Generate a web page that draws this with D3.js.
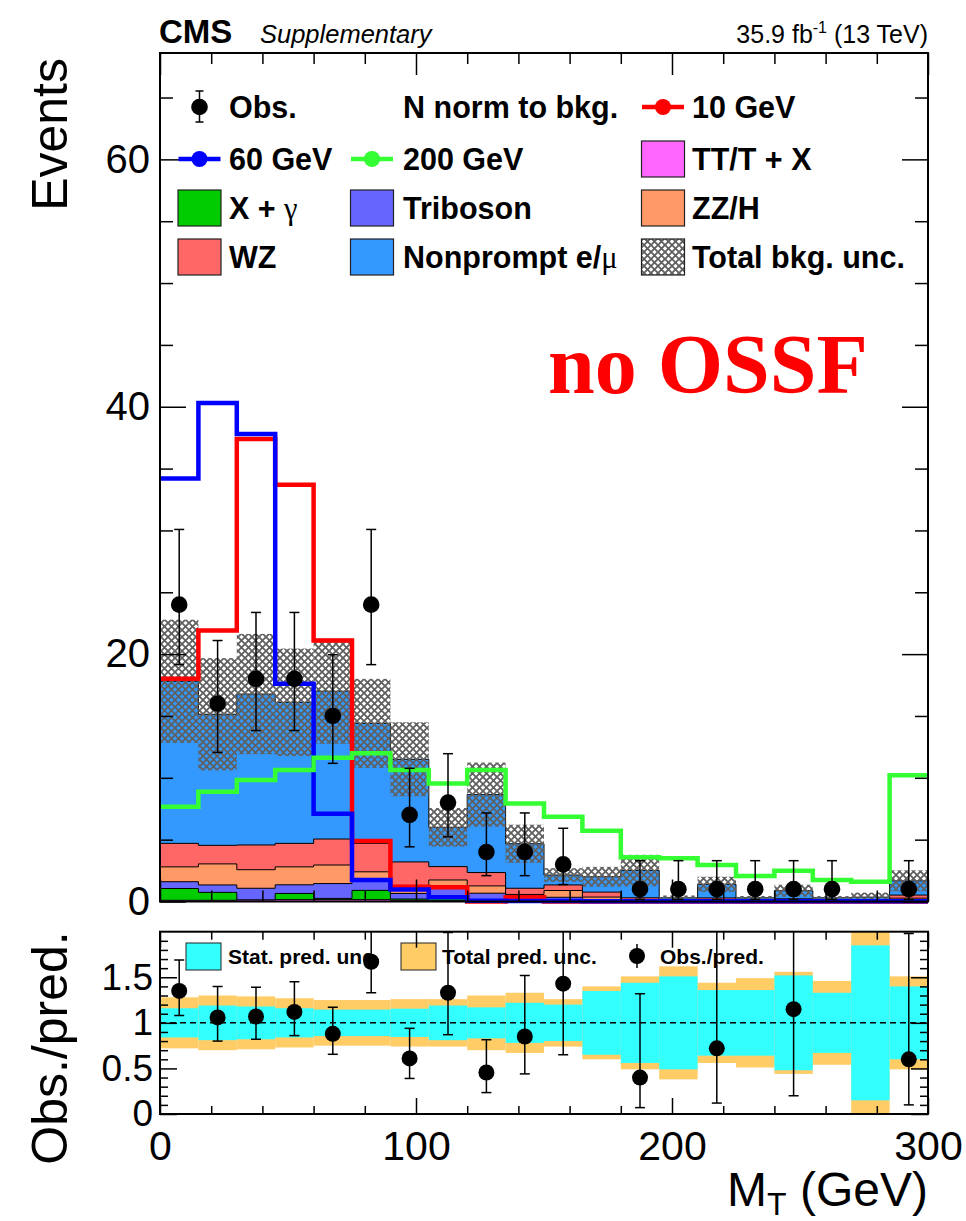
<!DOCTYPE html>
<html>
<head>
<meta charset="utf-8">
<script src="https://cdn.jsdelivr.net/npm/d3@7"></script>
<style>
body { margin:0; background:#fff; }
svg text { font-family: "Liberation Sans", Arial, Helvetica, sans-serif; }
</style>
</head>
<body>
<svg id="chart" width="966" height="1221"></svg>
<script>
// bin edges in M_T (GeV), 15 GeV bins
var edges = [0,15,30,45,60,75,90,105,120,135,150,165,180,195,210,225,240,255,270,285,300];

// observed events and asymmetric (Poisson) errors
var obs   = [24,16,18,18,15,24,7,8,4,4,3,0,1,1,1,1,1,1,0,1];
var obsUp = [6.08,5.10,5.37,5.37,4.95,6.08,3.77,3.95,3.16,3.16,2.92,0,2.30,2.30,2.30,2.30,2.30,2.30,0,2.30];
var obsDn = [4.85,3.95,4.18,4.18,3.83,4.85,2.58,2.77,1.91,1.91,1.63,0,0.83,0.83,0.83,0.83,0.83,0.83,0,0.83];

// background stack, bottom to top
var ttx = [0.10,0.10,0.12,0.15,0.15,0.15,0.10,0.06,0.05,0.07,0.04,0.03,0.02,0.01,0.01,0.01,0.02,0.01,0.01,0.07];
var xg  = [0.95,0.64,0.00,0.50,0.10,0.75,0.10,0.30,0.10,0.05,0.05,0.03,0.00,0.00,0.01,0.00,0.00,0.00,0.00,0.00];
var tri = [0.55,0.60,0.95,0.70,1.20,0.90,0.45,0.90,0.52,0.15,0.25,0.10,0.05,0.02,0.04,0.02,0.03,0.02,0.02,0.08];
var zzh = [1.20,1.70,1.50,1.45,1.50,0.60,0.55,0.48,0.59,0.30,0.55,0.20,0.08,0.04,0.08,0.04,0.05,0.04,0.04,0.12];
var wz  = [1.90,1.50,2.00,1.90,2.10,2.30,2.00,1.08,1.08,0.50,0.45,0.40,0.15,0.08,0.15,0.08,0.12,0.08,0.08,0.25];
var nonprompt = [13.1,10.6,12.2,11.4,11.95,9.7,8.3,3.18,6.3,3.6,0.80,1.24,2.20,0.15,1.10,0.15,0.65,0.15,0.20,1.15];

// relative uncertainties on the prediction
var statUnc = [0.16,0.19,0.18,0.16,0.145,0.145,0.155,0.19,0.17,0.22,0.20,0.35,0.44,0.51,0.36,0.36,0.52,0.33,0.85,0.40];
var totUnc  = [0.28,0.30,0.29,0.27,0.25,0.25,0.26,0.26,0.30,0.33,0.26,0.40,0.51,0.62,0.44,0.49,0.56,0.46,1.05,0.51];

// signal hypotheses (normalised to bkg.)
var sig10  = [18.0,21.9,37.4,33.7,21.1,4.9,1.2,1.15,0,0.35,0,0,0,0,0,0,0,0,0,0];
var sig60  = [34.2,40.3,37.8,17.6,7.1,1.74,0.98,0.34,0.07,0.05,0.04,0.03,0.03,0.02,0.02,0.02,0.02,0.02,0.02,0.02];
var sig200 = [7.66,8.88,9.82,10.63,11.63,11.98,10.63,9.55,10.63,7.93,6.86,5.72,3.57,3.49,2.95,2.06,2.49,1.74,1.6,10.2];

// obs./pred. (null = off scale or empty)
var ratioVal = [1.35,1.06,1.07,1.12,0.88,1.67,0.61,1.33,0.455,0.85,1.43,null,0.40,null,0.72,null,1.15,null,null,0.60];
var ratioUp  = [0.34,0.34,0.32,0.33,0.29,0.42,0.33,0.66,0.36,0.67,1.39,null,0.92,null,1.65,null,2.6,null,null,1.38];
var ratioDn  = [0.27,0.26,0.25,0.26,0.225,0.34,0.22,0.46,0.22,0.41,0.78,null,0.33,null,0.60,null,0.95,null,null,0.50];

var yTicks = [0,20,40,60];
var xTicks = [0,100,200,300];
var rTicks = [0,0.5,1,1.5];

var svg = d3.select("#chart");
var FONT = "Liberation Sans, Arial, sans-serif";

var x  = d3.scaleLinear().domain([0,300]).range([160,928]);
var y  = d3.scaleLinear().domain([0,68.6]).range([901.5,53]);
var yr = d3.scaleLinear().domain([0,2]).range([1114,931.7]);

var defs = svg.append("defs");
defs.append("pattern").attr("id","hatch").attr("patternUnits","userSpaceOnUse")
    .attr("width",7).attr("height",7)
  .append("path").attr("d","M0,0L7,7M7,0L0,7").attr("stroke","#5f5f5f").attr("stroke-width",1.8);
defs.append("clipPath").attr("id","rclip")
  .append("rect").attr("x",160).attr("y",931.7).attr("width",768).attr("height",1114-931.7);

function stepPts(vals) {
    return edges.map(function(e,i){ return [e, vals[Math.min(i, vals.length-1)]]; });
}

// ---- main stack ----
var layers = [
    {vals: ttx, color: "#ff66ff"},
    {vals: xg,  color: "#00cc00"},
    {vals: tri, color: "#6666ff"},
    {vals: zzh, color: "#ff9966"},
    {vals: wz,  color: "#ff6666"},
    {vals: nonprompt, color: "#3399ff"}
];
var cum = edges.slice(0,20).map(function(){ return 0; });
layers.forEach(function(l){
    cum = cum.map(function(c,i){ return c + l.vals[i]; });
    l.cum = cum.slice();
});
var total = cum;

var area = d3.area().curve(d3.curveStepAfter)
    .x(function(d){ return x(d[0]); }).y0(y(0)).y1(function(d){ return y(d[1]); });
var main = svg.append("g");
layers.slice().reverse().forEach(function(l){
    main.append("path").attr("d", area(stepPts(l.cum)))
        .attr("fill", l.color).attr("stroke","#000").attr("stroke-width",1);
});

// total bkg uncertainty
main.selectAll(".unc").data(total).enter().append("rect")
    .attr("x", function(d,i){ return x(edges[i]); })
    .attr("width", function(d,i){ return x(edges[i+1]) - x(edges[i]); })
    .attr("y", function(d,i){ return y(d*(1+totUnc[i])); })
    .attr("height", function(d,i){ return y(Math.max(0,d*(1-totUnc[i]))) - y(d*(1+totUnc[i])); })
    .attr("fill","url(#hatch)");

// signals
var line = d3.line().curve(d3.curveStepAfter)
    .x(function(d){ return x(d[0]); }).y(function(d){ return y(d[1]); });
[[sig10,"#ff0000"],[sig60,"#0000ff"],[sig200,"#33ff33"]].forEach(function(s){
    main.append("path").attr("d", line(stepPts(s[0])))
        .attr("fill","none").attr("stroke", s[1]).attr("stroke-width",4.5);
});

// data points
function errBars(g, xs, ys, ups, dns, sy, cap) {
    g.append("line").attr("x1",xs).attr("x2",xs).attr("y1",sy(ys+ups)).attr("y2",sy(ys-dns))
        .attr("stroke","#000").attr("stroke-width",1.5);
    [ys+ups, ys-dns].forEach(function(v){
        g.append("line").attr("x1",xs-cap).attr("x2",xs+cap).attr("y1",sy(v)).attr("y2",sy(v))
            .attr("stroke","#000").attr("stroke-width",1.5);
    });
}
obs.forEach(function(n,i){
    if (n <= 0) return;
    var cx = x((edges[i]+edges[i+1])/2);
    errBars(main, cx, n, obsUp[i], obsDn[i], y, 5);
    main.append("circle").attr("cx",cx).attr("cy",y(n)).attr("r",8.3).attr("fill","#000");
});

// ---- axes ----
function axis(gen, tr, vals, len, labels, fs, pad) {
    var g = svg.append("g").attr("transform", tr)
        .call(gen.tickValues(vals).tickSize(-len).tickPadding(pad)
            .tickFormat(labels ? function(d){ return String(d); } : ""));
    g.select(".domain").remove();
    g.attr("font-family", FONT).attr("font-size", fs);
    g.selectAll("line").attr("stroke","#000").attr("stroke-width",1.5);
    g.selectAll("text").attr("fill","#000");
    return g;
}
var yMinor = d3.range(5,68,5).filter(function(v){ return v % 20 !== 0; });
var xMinor = d3.range(20,300,20).filter(function(v){ return v % 100 !== 0; });
var rMinor = d3.range(1,20).map(function(v){ return v/10; }).filter(function(v){ return (v*10) % 5 !== 0; });

axis(d3.axisLeft(y), "translate(160,0)", yTicks, 26, true, 40, 10);
axis(d3.axisLeft(y), "translate(160,0)", yMinor, 13, false, 10, 0);
axis(d3.axisRight(y), "translate(928,0)", yTicks, 26, false, 10, 0);
axis(d3.axisRight(y), "translate(928,0)", yMinor, 13, false, 10, 0);
axis(d3.axisBottom(x), "translate(0,901.5)", xTicks, 22, false, 10, 0);
axis(d3.axisBottom(x), "translate(0,901.5)", xMinor, 11, false, 10, 0);
axis(d3.axisTop(x), "translate(0,53)", xTicks, 22, false, 10, 0);
axis(d3.axisTop(x), "translate(0,53)", xMinor, 11, false, 10, 0);

svg.append("rect").attr("x",160).attr("y",53).attr("width",768).attr("height",901.5-53)
    .attr("fill","none").attr("stroke","#000").attr("stroke-width",2);

// ---- legend ----
var colX = [199.5, 372, 663];
var txtX = [229, 403, 692];
var rowY = [107, 159, 208, 257];
var legend = [
    {r:0,c:0,type:"obs", label:"Obs."},
    {r:0,c:1,type:"none",label:"N norm to bkg."},
    {r:0,c:2,type:"line",color:"#ff0000",label:"10 GeV"},
    {r:1,c:0,type:"line",color:"#0000ff",label:"60 GeV"},
    {r:1,c:1,type:"line",color:"#33ff33",label:"200 GeV"},
    {r:1,c:2,type:"box",color:"#ff66ff",label:"TT/T + X"},
    {r:2,c:0,type:"box",color:"#00cc00",label:"X + ",greek:"\u03b3"},
    {r:2,c:1,type:"box",color:"#6666ff",label:"Triboson"},
    {r:2,c:2,type:"box",color:"#ff9966",label:"ZZ/H"},
    {r:3,c:0,type:"box",color:"#ff6666",label:"WZ"},
    {r:3,c:1,type:"box",color:"#3399ff",label:"Nonprompt e/",greek:"\u03bc"},
    {r:3,c:2,type:"box",color:"url(#hatch)",label:"Total bkg. unc."}
];
var leg = svg.append("g");
legend.forEach(function(e){
    var cx = colX[e.c], cy = rowY[e.r];
    if (e.type === "box") {
        leg.append("rect").attr("x",cx-21.5).attr("y",cy-18).attr("width",43).attr("height",36)
            .attr("fill",e.color).attr("stroke","#222").attr("stroke-width",1.2);
    } else if (e.type === "line") {
        leg.append("line").attr("x1",cx-21).attr("x2",cx+21).attr("y1",cy).attr("y2",cy)
            .attr("stroke",e.color).attr("stroke-width",4.5);
        leg.append("circle").attr("cx",cx).attr("cy",cy).attr("r",8).attr("fill",e.color);
    } else if (e.type === "obs") {
        leg.append("line").attr("x1",cx).attr("x2",cx).attr("y1",cy-16).attr("y2",cy+15).attr("stroke","#000").attr("stroke-width",1.5);
        leg.append("line").attr("x1",cx-4).attr("x2",cx+4).attr("y1",cy-16).attr("y2",cy-16).attr("stroke","#000").attr("stroke-width",1.5);
        leg.append("line").attr("x1",cx-4).attr("x2",cx+4).attr("y1",cy+15).attr("y2",cy+15).attr("stroke","#000").attr("stroke-width",1.5);
        leg.append("circle").attr("cx",cx).attr("cy",cy).attr("r",8.3).attr("fill","#000");
    }
    var t = leg.append("text").attr("x",txtX[e.c]).attr("y",cy).attr("dy","0.36em")
        .attr("font-size",30.5).attr("font-weight","bold").text(e.label);
    if (e.greek) t.append("tspan").attr("font-weight","normal").attr("font-family","Liberation Serif, serif").text(e.greek);
});

// ---- header texts ----
svg.append("text").attr("x",159).attr("y",43).attr("font-size",33).attr("font-weight","bold").text("CMS");
svg.append("text").attr("x",260).attr("y",43).attr("font-size",25.5).attr("font-style","italic").text("Supplementary");
var lumi = svg.append("text").attr("x",928).attr("y",43).attr("font-size",25).attr("text-anchor","end");
lumi.append("tspan").text("35.9 fb");
lumi.append("tspan").attr("font-size",16).attr("dy",-10).text("-1");
lumi.append("tspan").attr("dy",10).text(" (13 TeV)");

svg.append("text").attr("x",548).attr("y",393).attr("font-size",84).attr("font-weight","bold")
    .attr("fill","#ff0000").style("font-family","Liberation Serif, Times New Roman, serif").text("no OSSF");

svg.append("text").attr("transform","translate(67,58) rotate(-90)").attr("text-anchor","end")
    .attr("font-size",50).text("Events");

// ---- ratio panel ----
var rp = svg.append("g").attr("clip-path","url(#rclip)");
function band(unc, color) {
    rp.selectAll(null).data(unc).enter().append("rect")
        .attr("x", function(d,i){ return x(edges[i]); })
        .attr("width", function(d,i){ return x(edges[i+1]) - x(edges[i]); })
        .attr("y", function(d){ return yr(Math.min(2, 1+d)); })
        .attr("height", function(d){ return yr(Math.max(0, 1-d)) - yr(Math.min(2, 1+d)); })
        .attr("fill", color);
}
band(totUnc, "#ffcc66");
band(statUnc, "#33ffff");
rp.append("line").attr("x1",160).attr("x2",928).attr("y1",yr(1)).attr("y2",yr(1))
    .attr("stroke","#000").attr("stroke-width",1.5).attr("stroke-dasharray","6,4");

// ratio legend
var rl = svg.append("g");
rl.append("rect").attr("x",186).attr("y",943).attr("width",35).attr("height",27)
    .attr("fill","#33ffff").attr("stroke","#222").attr("stroke-width",1);
rl.append("text").attr("x",228).attr("y",956).attr("dy","0.36em").attr("font-size",21).attr("font-weight","bold").text("Stat. pred. unc.");
rl.append("rect").attr("x",401).attr("y",943).attr("width",35).attr("height",27)
    .attr("fill","#ffcc66").attr("stroke","#222").attr("stroke-width",1);
rl.append("text").attr("x",442).attr("y",956).attr("dy","0.36em").attr("font-size",21).attr("font-weight","bold").text("Total pred. unc.");
rl.append("line").attr("x1",637).attr("x2",637).attr("y1",944).attr("y2",968).attr("stroke","#000").attr("stroke-width",1.5);
rl.append("circle").attr("cx",637).attr("cy",956).attr("r",8).attr("fill","#000");
rl.append("text").attr("x",660).attr("y",956).attr("dy","0.36em").attr("font-size",21).attr("font-weight","bold").text("Obs./pred.");

ratioVal.forEach(function(v,i){
    if (v === null) return;
    var cx = x((edges[i]+edges[i+1])/2);
    errBars(rp, cx, v, ratioUp[i], ratioDn[i], yr, 5);
    rp.append("circle").attr("cx",cx).attr("cy",yr(v)).attr("r",8).attr("fill","#000");
});

axis(d3.axisLeft(yr), "translate(160,0)", rTicks, 17, true, 37, 7);
axis(d3.axisLeft(yr), "translate(160,0)", rMinor, 8, false, 10, 0);
axis(d3.axisRight(yr), "translate(928,0)", rTicks, 17, false, 10, 0);
axis(d3.axisRight(yr), "translate(928,0)", rMinor, 8, false, 10, 0);
axis(d3.axisBottom(x), "translate(0,1114)", xTicks, 16, true, 41, 17);
axis(d3.axisBottom(x), "translate(0,1114)", xMinor, 8, false, 10, 0);
axis(d3.axisTop(x), "translate(0,931.7)", xTicks, 16, false, 10, 0);
axis(d3.axisTop(x), "translate(0,931.7)", xMinor, 8, false, 10, 0);

svg.append("rect").attr("x",160).attr("y",931.7).attr("width",768).attr("height",1114-931.7)
    .attr("fill","none").attr("stroke","#000").attr("stroke-width",2);

svg.append("text").attr("transform","translate(67,1048) rotate(-90)").attr("text-anchor","middle")
    .attr("font-size",50).text("Obs./pred.");

var xt = svg.append("text").attr("x",928).attr("y",1206).attr("text-anchor","end").attr("font-size",48);
xt.append("tspan").text("M");
xt.append("tspan").attr("font-size",32).attr("dy",9).text("T");
xt.append("tspan").attr("dy",-9).text(" (GeV)");
</script>
</body>
</html>
